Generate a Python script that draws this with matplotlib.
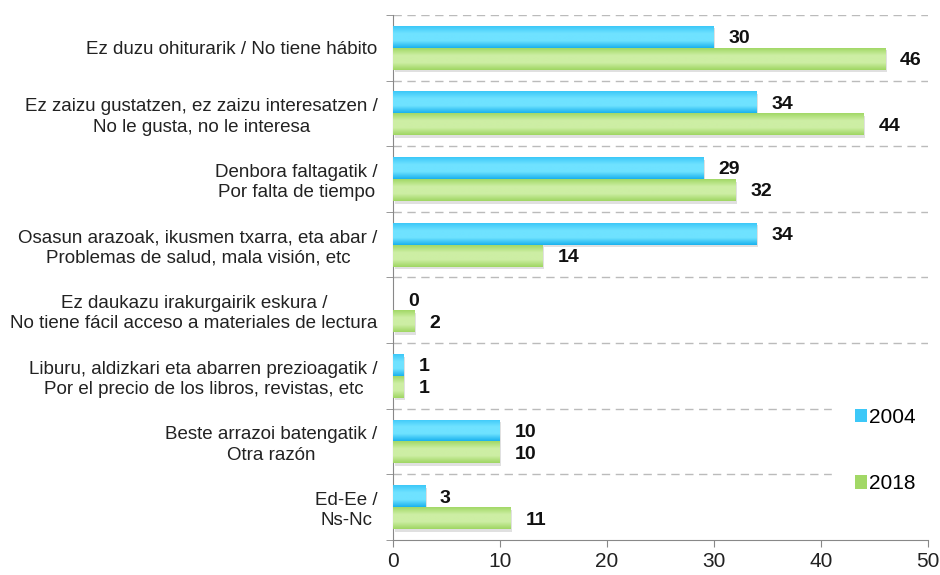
import numpy as np
import matplotlib
matplotlib.use("Agg")
import matplotlib.pyplot as plt
from matplotlib.colors import LinearSegmentedColormap

plt.rcParams['font.family'] = ['Liberation Sans', 'DejaVu Sans']

categories = [
    "Ez duzu ohiturarik / No tiene hábito",
    "Ez zaizu gustatzen, ez zaizu interesatzen /\nNo le gusta, no le interesa",
    "Denbora faltagatik /\nPor falta de tiempo",
    "Osasun arazoak, ikusmen txarra, eta abar /\nProblemas de salud, mala visión, etc",
    "Ez daukazu irakurgairik eskura /\nNo tiene fácil acceso a materiales de lectura",
    "Liburu, aldizkari eta abarren prezioagatik /\nPor el precio de los libros, revistas, etc",
    "Beste arrazoi batengatik /\nOtra razón",
    "Ed-Ee /\nNs-Nc",
]
v2004 = [30, 34, 29, 34, 0, 1, 10, 3]
v2018 = [46, 44, 32, 14, 2, 1, 10, 11]
series_names = ["2004", "2018"]

# gradient colours (top edge, middle, bottom) for each series
blue = ["#1ab2ee", "#6fe2ff", "#3cc8f8"]
green = ["#9fd662", "#cdeea4", "#a2d866"]

fig = plt.figure(figsize=(9.4, 5.75), dpi=100)
ax = fig.add_axes([0.418, 0.061, 0.569, 0.913])

n = len(categories)
y = np.arange(n)
h = 0.335

def grad_bars(ypos, vals, cols, label):
    cmap = LinearSegmentedColormap.from_list("g", [cols[0], cols[1], cols[1], cols[2]])
    grad = np.linspace(0, 1, 64).reshape(-1, 1)
    # soft shadow
    ax.barh(ypos + 0.04, vals, height=h, left=0.15, color="#000000", alpha=0.12, zorder=2)
    bars = ax.barh(ypos, vals, height=h, color=cols[2], label=label, zorder=3)
    for b in bars:
        if b.get_width() <= 0:
            continue
        x0, y0 = b.get_x(), b.get_y()
        im = ax.imshow(grad, cmap=cmap, aspect="auto", zorder=4,
                       extent=(x0, x0 + b.get_width(), y0, y0 + b.get_height()),
                       origin="upper")
        im.set_clip_path(b)
    for yy, v in zip(ypos, vals):
        ax.text(v + 1.4, yy + 0.03, str(v), va="center", ha="left",
                fontsize=14, fontweight="bold", color="#111111", zorder=5)
    return bars

b1 = grad_bars(y - h / 2, v2004, blue, series_names[0])
b2 = grad_bars(y + h / 2, v2018, green, series_names[1])

ax.set_xlim(0, 50)
ax.set_ylim(n - 0.5, -0.5)
ax.set_xticks(np.arange(0, 51, 10))
ax.set_yticks(y)
ax.set_yticklabels(categories, fontsize=13.5, color="#222222", linespacing=1.25)
for lab in ax.get_yticklabels():
    lab.set_multialignment("center")
ax.tick_params(axis="y", length=0, pad=11)
ax.set_yticks(np.arange(-0.5, n, 1), minor=True)
ax.tick_params(axis="y", which="minor", length=5, color="#888888")
ax.tick_params(axis="x", length=5, color="#888888", labelsize=15, labelcolor="#222222")

# dashed separators
for yb in np.arange(-0.5, n - 0.5, 1):
    ax.axhline(yb, color="#bbbbbb", linestyle=(0, (6, 4)), linewidth=1, zorder=1)

for s in ["top", "right"]:
    ax.spines[s].set_visible(False)
for s in ["left", "bottom"]:
    ax.spines[s].set_color("#888888")

leg = ax.legend(handles=[b1, b2], loc="center left", bbox_to_anchor=(0.8206, 0.17),
                frameon=True, fontsize=15, handlelength=0.6, handleheight=0.6,
                handletextpad=0.1, labelspacing=2.27, borderpad=1.1, borderaxespad=0)
leg.get_frame().set_edgecolor("white")
leg.get_frame().set_facecolor("white")
leg.get_frame().set_alpha(1)
leg.get_frame().set_boxstyle("square", pad=0)
leg.set_zorder(6)

fig.savefig("out.png", dpi=100)
